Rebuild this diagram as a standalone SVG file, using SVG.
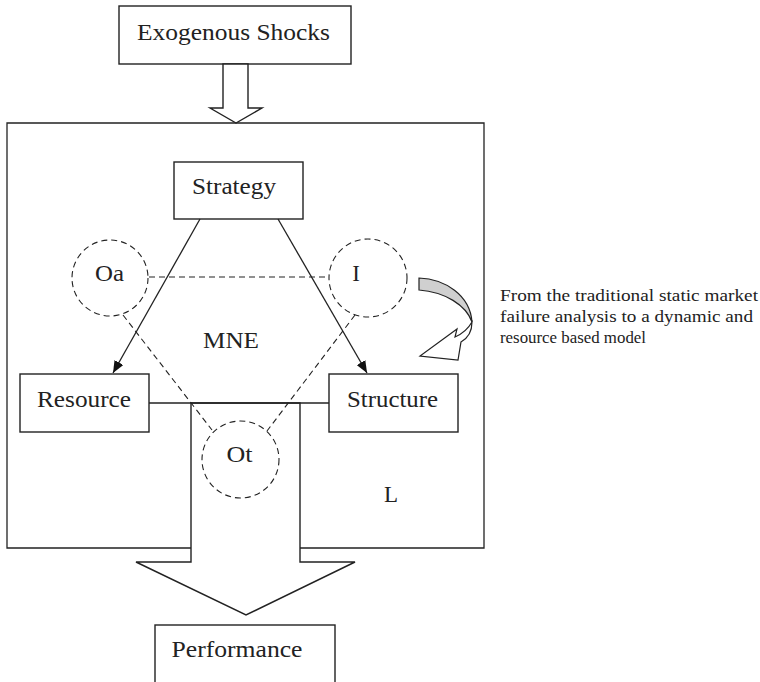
<svg xmlns="http://www.w3.org/2000/svg" width="760" height="682" viewBox="0 0 760 682">
<defs>
<style>
.box{fill:#fff;stroke:#222;stroke-width:1.4}
.ln{fill:none;stroke:#222;stroke-width:1.3}
.dash{fill:none;stroke:#222;stroke-width:1.1;stroke-dasharray:6 4}
.t{font-family:'Liberation Serif','Times New Roman',Times,serif;font-size:23px;fill:#222;text-anchor:middle}
.s{font-family:'Liberation Serif','Times New Roman',Times,serif;font-size:16.5px;fill:#222}
</style>
<marker id="ah" viewBox="0 0 12 10" refX="12" refY="5" markerWidth="12" markerHeight="10" markerUnits="userSpaceOnUse" orient="auto">
<path d="M0,0 L12,5 L0,10 Z" fill="#111"/>
</marker>
</defs>
<rect width="760" height="682" fill="#fff"/>

<g id="firm">
<path class="ln" d="M191,548 L7,548 L7,123 L484,123 L484,548 L300,548"/>
</g>

<g id="exogenous">
<rect class="box" x="119" y="6" width="232" height="58"/>
<text class="t" x="233.5" y="40" textLength="193" lengthAdjust="spacingAndGlyphs">Exogenous Shocks</text>
</g>

<g id="strategy">
<rect class="box" x="174" y="162" width="129" height="57"/>
<text class="t" x="234" y="194" textLength="84" lengthAdjust="spacingAndGlyphs">Strategy</text>
</g>

<g id="resource">
<rect class="box" x="20" y="374" width="129" height="58"/>
<text class="t" x="84" y="407" textLength="94" lengthAdjust="spacingAndGlyphs">Resource</text>
</g>

<g id="structure">
<rect class="box" x="329" y="374" width="129" height="58"/>
<text class="t" x="392.5" y="407" textLength="91" lengthAdjust="spacingAndGlyphs">Structure</text>
</g>

<g id="performance">
<rect class="box" x="155" y="625" width="180" height="70"/>
<text class="t" x="237" y="657" textLength="131" lengthAdjust="spacingAndGlyphs">Performance</text>
</g>

<g id="connectors">
<path class="box" d="M223,64 L248,64 L248,108 L262,108 L236,123 L210,108 L223,108 Z"/>
<path class="box" d="M191,403 L300,403 L300,562 L355,562 L246,615 L136,562 L191,562 Z"/>
<path class="ln" d="M149,403 L329,403"/>
<line class="ln" x1="200" y1="219" x2="113" y2="373" marker-end="url(#ah)"/>
<line class="ln" x1="278" y1="219" x2="367" y2="373" marker-end="url(#ah)"/>
<line class="dash" x1="149" y1="277" x2="329" y2="277"/>
<line class="dash" x1="123" y1="315" x2="212" y2="430"/>
<line class="dash" x1="355" y1="315" x2="267" y2="431"/>
</g>

<g id="oa">
<circle class="dash" cx="110" cy="278" r="38"/>
<text class="t" x="109.5" y="281" textLength="29" lengthAdjust="spacingAndGlyphs">Oa</text>
</g>

<g id="i">
<circle class="dash" cx="368" cy="278" r="39"/>
<text class="t" x="356" y="281">I</text>
</g>

<g id="ot">
<circle class="dash" cx="240.5" cy="459.5" r="38.5"/>
<text class="t" x="239.5" y="462" textLength="26" lengthAdjust="spacingAndGlyphs">Ot</text>
</g>

<g id="labels">
<text class="t" x="231" y="348" textLength="56" lengthAdjust="spacingAndGlyphs">MNE</text>
<text class="t" x="391" y="502">L</text>
</g>

<g id="shift">
<path d="M419,278 C445,279 470,295 472,322 C466,305 445,292 419,290 Z" fill="#d0d0d0" stroke="#222" stroke-width="1.2"/>
<path d="M472,322 C472,332 468,338 461,342 L458,360 L420,356 L457,329 L455,337 C462,334 468,329 472,322 Z" fill="#fff" stroke="#222" stroke-width="1.2"/>
<text class="s" x="500" y="301" textLength="258" lengthAdjust="spacingAndGlyphs">From the traditional static market</text>
<text class="s" x="500" y="322" textLength="253" lengthAdjust="spacingAndGlyphs">failure analysis to a dynamic and</text>
<text class="s" x="500" y="343" textLength="146" lengthAdjust="spacingAndGlyphs">resource based model</text>
</g>
</svg>
